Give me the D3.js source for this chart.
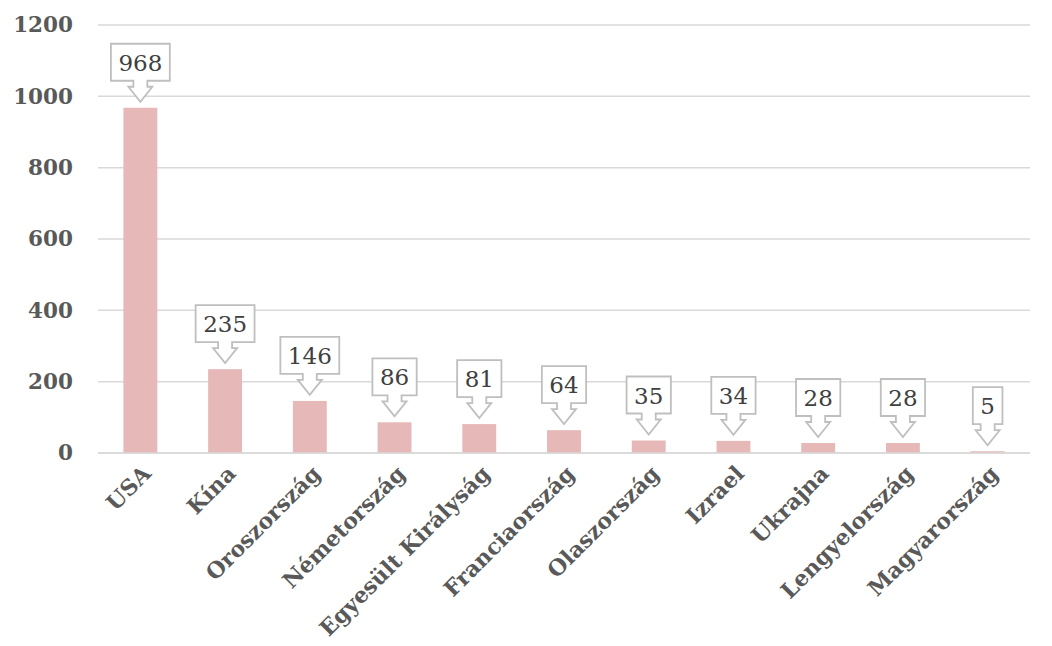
<!DOCTYPE html>
<html><head><meta charset="utf-8">
<script src="https://cdn.jsdelivr.net/npm/d3@7/dist/d3.min.js"></script>
<style>
html,body{margin:0;padding:0;background:#fff;}
svg{display:block;}
</style></head>
<body><svg id="chart" width="1052" height="646"></svg>
<script>
const categories = ["USA","Kína","Oroszország","Németország","Egyesült Királyság","Franciaország","Olaszország","Izrael","Ukrajna","Lengyelország","Magyarország"];
const values = [968,235,146,86,81,64,35,34,28,28,5];
const yTicks = [0,200,400,600,800,1000,1200];

const W = 1052, H = 646;
const margin = {left: 98, right: 22, top: 25, bottom: 193};
const svg = d3.select("#chart");
const x = d3.scaleBand().domain(categories).range([margin.left, W - margin.right]).paddingInner(0.6).paddingOuter(0.3);
const y = d3.scaleLinear().domain([0,1200]).range([H - margin.bottom, margin.top]);

// gridlines
svg.append("g").selectAll("line").data(yTicks).join("line")
  .attr("x1", margin.left).attr("x2", W - margin.right)
  .attr("y1", d => y(d)).attr("y2", d => y(d))
  .attr("stroke", "#d9d9d9").attr("stroke-width", 1.5);

// y axis labels
const yAxis = d3.axisLeft(y).tickValues(yTicks).tickFormat(d3.format("d")).tickSize(0).tickPadding(25);
const ga = svg.append("g").attr("transform", `translate(${margin.left},0)`).call(yAxis);
ga.select(".domain").remove();
ga.selectAll("text").attr("font-family","'DejaVu Serif', serif").attr("font-weight","bold")
  .attr("font-size", 21.5).attr("fill","#595959");

// bars
svg.append("g").selectAll("rect").data(values).join("rect")
  .attr("x", (d,i) => x(categories[i]))
  .attr("width", x.bandwidth())
  .attr("y", d => y(d))
  .attr("height", d => y(0) - y(d))
  .attr("fill", "#e6b8b7");

// baseline
svg.append("line").attr("x1", margin.left).attr("x2", W - margin.right)
  .attr("y1", y(0)).attr("y2", y(0)).attr("stroke","#d9d9d9").attr("stroke-width",1.5);

// x labels
svg.append("g").selectAll("text").data(categories).join("text")
  .attr("transform", d => `translate(${x(d) + x.bandwidth()/2 + 12},${y(0) + 22}) rotate(-45)`)
  .attr("text-anchor","end")
  .attr("font-family","'DejaVu Serif', serif").attr("font-weight","bold")
  .attr("font-size", 22).attr("fill","#595959")
  .text(d => d);

// callouts
const gapTip = 6, arrowLen = 21, boxH = 37;
const lg = svg.append("g");
values.forEach((v,i) => {
  const cx = x(categories[i]) + x.bandwidth()/2;
  const tip = y(v) - gapTip;
  const bottom = tip - arrowLen;
  const top = bottom - boxH;
  const t = lg.append("text").attr("x", cx).attr("y", (top+bottom)/2 + 8.5)
    .attr("text-anchor","middle").attr("font-family","'DejaVu Serif', serif")
    .attr("font-size", 23).attr("fill","#404040").text(v);
  const tw = t.node().getComputedTextLength();
  const w = tw + 15;
  const l = cx - w/2, r = cx + w/2;
  const p = d3.path();
  p.moveTo(l, top); p.lineTo(r, top); p.lineTo(r, bottom);
  p.lineTo(cx + 7, bottom); p.lineTo(cx + 7, bottom + 6); p.lineTo(cx + 12, bottom + 6);
  p.lineTo(cx, tip); p.lineTo(cx - 12, bottom + 6); p.lineTo(cx - 7, bottom + 6);
  p.lineTo(cx - 7, bottom); p.lineTo(l, bottom); p.closePath();
  lg.insert("path", "text").attr("d", p.toString()).attr("fill","#fff")
    .attr("stroke","#bfbfbf").attr("stroke-width",1.8);
});
</script></body></html>
